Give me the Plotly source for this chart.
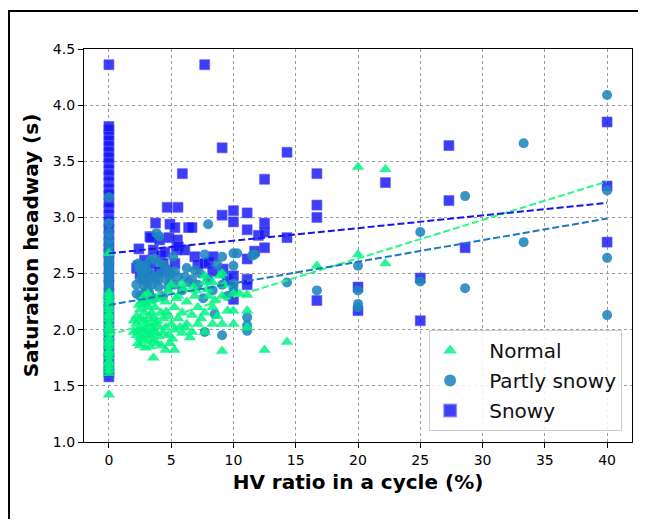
import plotly.graph_objects as go

# ---------------- data ----------------
normal_x = [0, 0, 0, 0, 0, 0, 0, 0, 0, 0, 0, 0, 0, 0, 0, 0, 0, 0, 0, 0, 0, 0, 0, 0, 0, 0, 0,
            2.0, 2.0, 2.22, 2.22, 2.22, 2.35, 2.38, 2.5, 2.5, 2.5, 2.5, 2.5, 2.6, 2.7, 2.78,
            2.86, 2.86, 2.86, 2.86, 2.94, 3.03, 3.03, 3.13, 3.13, 3.13, 3.23, 3.23, 3.33, 3.33,
            3.33, 3.33, 3.45, 3.57, 3.57, 3.57, 3.57, 3.7, 3.7, 3.85, 3.85, 4.0, 4.0, 4.0, 4.17,
            4.35, 4.35, 4.55, 4.55, 4.55, 4.76, 4.76, 4.76, 5.0, 5.0, 5.26, 5.26, 5.26, 5.56,
            5.56, 5.88, 5.88, 5.88, 6.25, 6.25, 6.67, 6.67, 6.9, 7.14, 7.14, 7.41, 7.69, 7.69,
            7.69, 7.69, 8.0, 8.33, 8.33, 8.33, 8.7, 8.9, 9.09, 9.09, 9.09, 9.09, 9.52, 10.0,
            10.0, 10.0, 10.5, 11.1, 11.1, 11.1, 12.5, 14.3, 16.7, 20.0, 20.0, 22.2, 22.2,
            2.7, 3.0, 3.4, 3.9, 4.2, 4.6, 5.1, 5.4, 6.0, 6.5, 7.0, 2.4, 3.6, 4.9, 6.1,
            7.9, 8.5, 9.3, 6.8, 5.7]
normal_y = [1.42, 1.61, 1.64, 1.67, 1.70, 1.72, 1.76, 1.79, 1.81, 1.85, 1.88, 1.90, 1.93, 1.97,
            2.00, 2.02, 2.05, 2.09, 2.12, 2.14, 2.18, 2.21, 2.24, 2.27, 2.30, 2.33, 2.68,
            1.98, 2.08, 1.95, 2.05, 2.12, 1.88, 2.00, 1.86, 1.93, 2.02, 2.10, 2.18, 2.25, 1.98,
            2.08, 1.90, 2.00, 2.15, 2.30, 1.84, 1.96, 2.06, 2.20, 2.32, 1.92, 2.02, 2.12, 1.85,
            1.95, 2.05, 2.25, 2.15, 1.75, 1.90, 2.00, 2.10, 1.98, 2.20, 1.88, 2.08, 1.94, 2.03,
            2.30, 2.15, 1.97, 2.10, 1.82, 2.25, 2.02, 2.35, 1.95, 2.12, 2.05, 2.40, 1.82, 2.20,
            2.00, 2.10, 2.30, 2.41, 1.97, 2.15, 2.05, 2.25, 2.13, 1.98, 2.30, 2.05, 2.20, 2.10,
            2.42, 2.48, 2.15, 1.98, 2.30, 2.42, 2.05, 2.20, 2.12, 2.48, 2.50, 1.81, 2.30, 2.05,
            2.17, 2.05, 2.32, 2.17, 2.32, 2.31, 2.17, 2.02, 1.82, 1.89, 2.57, 2.67, 3.45, 2.59,
            3.43,
            1.92, 2.23, 1.97, 2.27, 1.86, 2.16, 1.92, 2.28, 2.36, 1.93, 2.35, 2.22, 2.06, 1.88,
            2.02,
            2.36, 2.26, 2.40, 2.38, 2.02]

partly_x = [0, 0, 0, 0, 0, 0, 0, 0, 0, 0, 0, 0, 0, 0, 0, 0, 0, 0, 0, 0, 0, 0, 0, 0, 0, 0, 0,
            2.2, 2.22, 2.35, 2.5, 2.5, 2.6, 2.75, 2.86, 2.86, 2.86, 3.03, 3.13, 3.23, 3.33, 3.33,
            3.45, 3.57, 3.67, 3.7, 3.82, 3.95, 4.0, 4.07, 4.17, 4.35, 4.55, 4.75, 4.76, 5.0,
            5.16, 5.26, 5.56, 5.88, 6.1, 6.25, 6.67, 6.9, 7.14, 7.57, 7.69, 7.69, 7.97, 8.0,
            8.33, 8.5, 9.09, 9.09, 9.09, 9.09, 9.52, 10.0, 10.0, 10.0, 10.0, 10.0, 10.3, 11.1,
            11.1, 11.1, 11.5, 11.7, 14.3, 16.7, 20.0, 20.0, 20.0, 20.0, 25.0, 25.0, 28.6, 28.6,
            33.3, 33.3, 40.0, 40.0, 40.0, 40.0,
            2.4, 3.1, 3.9, 4.4, 5.3, 6.4, 7.3, 8.7, 2.9, 4.9]
partly_y = [1.65, 1.70, 1.78, 1.85, 1.92, 2.00, 2.08, 2.15, 2.22, 2.27, 2.31, 2.35, 2.39, 2.42,
            2.46, 2.50, 2.53, 2.57, 2.60, 2.63, 2.66, 2.70, 2.75, 2.80, 2.86, 2.95, 3.18,
            2.40, 2.32, 2.59, 2.45, 2.30, 2.52, 2.57, 2.47, 2.38, 2.25, 2.55, 2.42, 2.33, 2.50,
            2.62, 2.40, 2.28, 2.63, 2.47, 2.86, 2.60, 2.38, 2.83, 2.50, 2.30, 2.45, 2.53, 2.38,
            2.50, 2.65, 2.40, 2.47, 2.35, 2.47, 2.55, 2.45, 2.53, 2.40, 2.28, 2.67, 1.98, 2.94,
            2.45, 2.35, 2.14, 2.65, 1.95, 2.50, 2.40, 2.30, 2.68, 2.57, 2.41, 2.38, 2.34, 2.68,
            2.11, 2.04, 1.99, 2.66, 2.67, 2.42, 2.35, 2.57, 2.35, 2.23, 2.20, 2.43, 2.87, 3.19,
            2.37, 3.66, 2.78, 4.09, 3.24, 2.64, 2.13,
            2.55, 2.36, 2.44, 2.58, 2.52, 2.42, 2.50, 2.58, 2.33, 2.46]

snowy_x = [0, 0, 0, 0, 0, 0, 0, 0, 0, 0, 0, 0, 0, 0, 0, 0, 0, 0, 0, 0, 0, 0, 0, 0, 0, 0, 0,
           0, 0, 0, 0, 0, 0, 0, 0, 0, 0, 0, 0,
           2.22, 2.41, 2.35, 2.5, 2.75, 2.86, 3.03, 3.29, 3.37, 3.42, 3.56, 3.69, 3.75, 4.07,
           4.17, 4.36, 4.5, 4.62, 4.68, 4.82, 4.9, 5.3, 5.3, 5.43, 5.5, 5.55, 5.57, 5.9, 6.1,
           6.4, 6.67, 6.9, 7.14, 7.69, 7.69, 8.0, 8.37, 8.33, 9.09, 9.09, 9.17, 9.52, 10.0,
           10.0, 10.0, 10.0, 11.1, 11.1, 11.1, 11.1, 11.1, 11.7, 12.0, 12.5, 12.5, 12.5, 12.5,
           14.3, 14.3, 16.7, 16.7, 16.7, 16.7, 20.0, 20.0, 22.2, 25.0, 25.0, 27.3, 27.3, 28.6,
           40.0, 40.0, 40.0, 2.86, 4.0, 3.13]
snowy_y = [1.58, 1.62, 1.68, 1.74, 1.80, 1.88, 1.95, 2.02, 2.10, 2.18, 2.25, 2.32, 2.40, 2.47,
           2.55, 2.62, 2.68, 2.73, 2.78, 2.84, 2.90, 2.96, 3.02, 3.08, 3.13, 3.20, 3.25, 3.31,
           3.37, 3.42, 3.48, 3.53, 3.58, 3.63, 3.68, 3.73, 3.78, 3.81, 4.36,
           2.55, 2.72, 2.57, 2.50, 2.47, 2.62, 2.55, 2.83, 2.82, 2.59, 2.71, 2.47, 2.95, 2.80,
           2.66, 2.59, 2.69, 2.53, 3.09, 2.82, 2.94, 2.59, 2.91, 2.71, 2.80, 3.09, 2.74, 3.39,
           2.71, 2.91, 2.91, 2.65, 2.58, 2.59, 4.36, 2.60, 2.65, 2.52, 3.62, 3.02, 2.54, 2.45,
           3.06, 2.96, 2.27, 2.48, 3.04, 2.89, 2.63, 2.45, 2.40, 2.70, 2.84, 3.34, 2.95, 2.87,
           2.73, 3.58, 2.82, 3.39, 3.11, 3.00, 2.26, 2.38, 2.17, 3.31, 2.46, 2.08, 3.64, 3.15,
           2.73, 3.85, 3.28, 2.78, 2.45, 2.52, 2.50]

# fitted trend lines (end points)
fit_x = [0, 40]
fit_normal = [1.95, 3.32]
fit_partly = [2.22, 2.99]
fit_snowy = [2.68, 3.13]

x_ticks = [0, 5, 10, 15, 20, 25, 30, 35, 40]
y_ticks = [1.0, 1.5, 2.0, 2.5, 3.0, 3.5, 4.0, 4.5]

GREEN = "rgba(0,245,130,0.85)"
STEEL = "rgba(31,134,190,0.88)"
BLUE = "rgba(20,20,245,0.82)"

NB = "\u00a0"

fig = go.Figure()

fig.add_trace(go.Scatter(x=snowy_x, y=snowy_y, mode="markers", name=NB * 3 + "Snowy",
                         legendrank=3, legendgroup="c",
                         marker=dict(symbol="square", size=10, color=BLUE,
                                     line=dict(width=1, color="rgba(90,90,255,0.6)"))))
fig.add_trace(go.Scatter(x=partly_x, y=partly_y, mode="markers", name=NB * 3 + "Partly snowy",
                         legendrank=2, legendgroup="b",
                         marker=dict(symbol="circle", size=10, color=STEEL, line=dict(width=0))))
fig.add_trace(go.Scatter(x=normal_x, y=normal_y, mode="markers", name=NB * 3 + "Normal",
                         legendrank=1, legendgroup="a",
                         marker=dict(symbol="triangle-up", size=11, color=GREEN, line=dict(width=0))))

fig.add_trace(go.Scatter(x=fit_x, y=fit_normal, mode="lines", showlegend=False,
                         line=dict(color="rgb(40,250,130)", width=2, dash="7px,3px")))
fig.add_trace(go.Scatter(x=fit_x, y=fit_partly, mode="lines", showlegend=False,
                         line=dict(color="rgb(25,120,190)", width=2, dash="7px,3px")))
fig.add_trace(go.Scatter(x=fit_x, y=fit_snowy, mode="lines", showlegend=False,
                         line=dict(color="rgb(20,20,240)", width=2, dash="7px,3px")))

axis_common = dict(
    showline=True, linecolor="black", linewidth=1.2, mirror=True,
    ticks="outside", ticklen=5, tickwidth=1, tickcolor="black",
    showgrid=True, gridcolor="#9a9a9a", gridwidth=1, griddash="dot",
    zeroline=False,
    tickfont=dict(family="DejaVu Sans", size=14, color="black"),
)

fig.update_xaxes(range=[-2, 42], tickvals=x_ticks,
                 title=dict(text="<b>HV ratio in a cycle (%)</b>", standoff=8,
                            font=dict(family="DejaVu Sans", size=20, color="black")),
                 **axis_common)
fig.update_yaxes(range=[1.0, 4.5], tickvals=y_ticks, tickformat=".1f",
                 title=dict(text="<b>Saturation headway (s)</b>", standoff=8,
                            font=dict(family="DejaVu Sans", size=20, color="black")),
                 **axis_common)

# page body has an 8px margin: figure is sized / placed so the plot area lands at
# x 84..632, y 49..442 of the 646x527 window, without causing page scrollbars
fig.update_layout(
    width=630, height=511,
    margin=dict(l=76, r=6, t=41, b=77, autoexpand=False),
    paper_bgcolor="white", plot_bgcolor="white",
    font=dict(family="DejaVu Sans", color="black"),
    legend=dict(x=0.982, y=0.028, xanchor="right", yanchor="bottom",
                bgcolor="rgba(255,255,255,0.85)", bordercolor="#cccccc", borderwidth=1,
                font=dict(family="DejaVu Sans", size=20, color="#111111"),
                traceorder="grouped", tracegroupgap=1,
                itemsizing="constant"),
    showlegend=True,
    shapes=[
        dict(type="line", xref="paper", yref="paper", x0=-0.1387, x1=1.011, y0=1.0967, y1=1.0967,
             line=dict(color="black", width=2)),
        dict(type="line", xref="paper", yref="paper", x0=-0.1369, x1=-0.1369, y0=1.0992, y1=-0.25,
             line=dict(color="black", width=2)),
    ],
)

fig.write_html("out.html", config={"displayModeBar": False})
